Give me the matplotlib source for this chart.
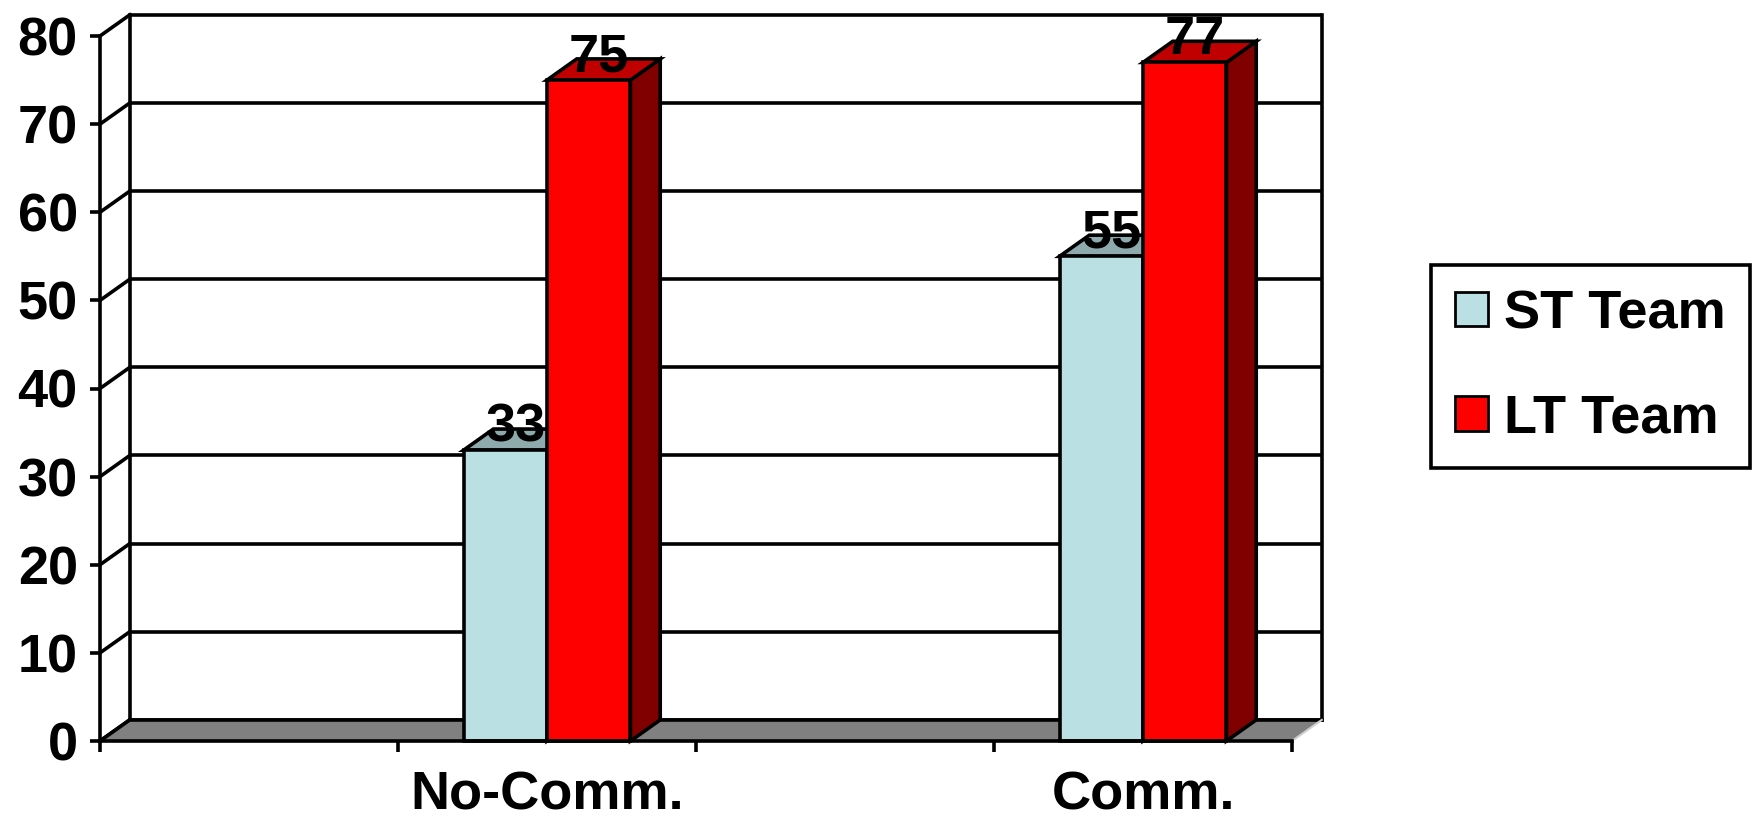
import matplotlib.pyplot as plt
from matplotlib.patches import Polygon, Patch
import numpy as np

plt.rcParams['font.family'] = ['Liberation Sans', 'DejaVu Sans']
plt.rcParams['font.weight'] = 'bold'

# data (blank categories are empty slots in the original chart)
categories = ['', 'No-Comm.', '', 'Comm.']
st_team = [np.nan, 33, np.nan, 55]
lt_team = [np.nan, 75, np.nan, 77]
series_names = ['ST Team', 'LT Team']
y_ticks = [0, 10, 20, 30, 40, 50, 60, 70, 80]

# colours: front, top, side
st_cols = ('#BBE0E3', '#8FAAAC', '#7A9496')
lt_cols = ('#FF0000', '#C00000', '#800000')

fs = 39
lw = 2.6
ymax = 80
ncat = len(categories)
dx = 0.1     # depth offset in category units
dy = 2.4     # depth offset in value units
bw = 0.28    # bar width

fig = plt.figure(figsize=(17.54, 8.17), dpi=100)
ax = fig.add_axes([100 / 1754, 76 / 817, 1192 / 1754, 705 / 817])
ax.set_xlim(0, ncat)
ax.set_ylim(0, ymax)

# back wall gridlines and side wall diagonals
for v in y_ticks:
    ax.plot([dx, ncat + dx], [v + dy, v + dy], color='black', lw=lw, zorder=1,
            clip_on=False, solid_capstyle='butt')
    ax.plot([0, dx], [v, v + dy], color='black', lw=lw, zorder=1, clip_on=False)
ax.plot([dx, dx], [dy, ymax + dy], color='black', lw=lw, zorder=1, clip_on=False)
ax.plot([ncat + dx, ncat + dx], [dy, ymax + dy], color='black', lw=lw, zorder=1,
        clip_on=False)

# floor
floor = Polygon([[0, 0], [ncat, 0], [ncat + dx, dy], [dx, dy]], closed=True,
                facecolor='#808080', edgecolor='none', zorder=2, clip_on=False)
ax.add_patch(floor)
ax.plot([dx, ncat + dx], [dy, dy], color='black', lw=lw, zorder=2, clip_on=False)
ax.plot([0, dx], [0, dy], color='black', lw=lw, zorder=2, clip_on=False)
ax.plot([ncat, ncat + dx], [0, dy], color='#D0D0D0', lw=1.5, zorder=2, clip_on=False)


def bar3d(x0, v, cols, z):
    x1 = x0 + bw
    front = Polygon([[x0, 0], [x1, 0], [x1, v], [x0, v]], closed=True,
                    facecolor=cols[0], edgecolor='black', lw=lw, zorder=z,
                    clip_on=False, joinstyle='miter')
    top = Polygon([[x0, v], [x1, v], [x1 + dx, v + dy], [x0 + dx, v + dy]], closed=True,
                  facecolor=cols[1], edgecolor='black', lw=lw, zorder=z,
                  clip_on=False, joinstyle='miter')
    side = Polygon([[x1, 0], [x1 + dx, dy], [x1 + dx, v + dy], [x1, v]], closed=True,
                   facecolor=cols[2], edgecolor='black', lw=lw, zorder=z,
                   clip_on=False, joinstyle='miter')
    ax.add_patch(side)
    ax.add_patch(top)
    ax.add_patch(front)
    ax.text(x0 + bw / 2 + dx * 0.35, v - 0.3, '%d' % v, ha='center', va='bottom',
            fontsize=fs, fontweight='bold', zorder=10)


for i in range(ncat):
    c = i + 0.5
    if not np.isnan(st_team[i]):
        bar3d(c - bw, st_team[i], st_cols, 3)
    if not np.isnan(lt_team[i]):
        bar3d(c, lt_team[i], lt_cols, 4)

# axes lines
for s in ['top', 'right']:
    ax.spines[s].set_visible(False)
for s in ['left', 'bottom']:
    ax.spines[s].set_linewidth(lw)
    ax.spines[s].set_zorder(6)

ax.set_yticks(y_ticks)
ax.tick_params(axis='y', direction='out', length=7, width=lw, pad=9, labelsize=fs)
ax.set_xticks(range(ncat + 1))
ax.set_xticklabels([])
ax.tick_params(axis='x', which='major', direction='out', length=8, width=lw)
ax.set_xticks(np.arange(ncat) + 0.5, minor=True)
ax.set_xticklabels(categories, minor=True)
ax.tick_params(axis='x', which='minor', length=0, pad=21, labelsize=fs)
for t in ax.get_xticklabels(minor=True) + ax.get_yticklabels():
    t.set_fontweight('bold')

# legend
handles = [Patch(facecolor=st_cols[0], edgecolor='black', lw=2),
           Patch(facecolor=lt_cols[0], edgecolor='black', lw=2)]
leg = fig.legend(handles, series_names, loc='upper left',
                 bbox_to_anchor=(1431 / 1754, 1 - 265 / 817),
                 prop={'size': fs, 'weight': 'bold'}, frameon=True, fancybox=False,
                 framealpha=1, edgecolor='black', handlelength=0.6, handleheight=0.6,
                 handletextpad=0.3, labelspacing=1.0, borderpad=0.45, borderaxespad=0)
leg.get_frame().set_linewidth(lw)

plt.savefig('out.png', dpi=100)
